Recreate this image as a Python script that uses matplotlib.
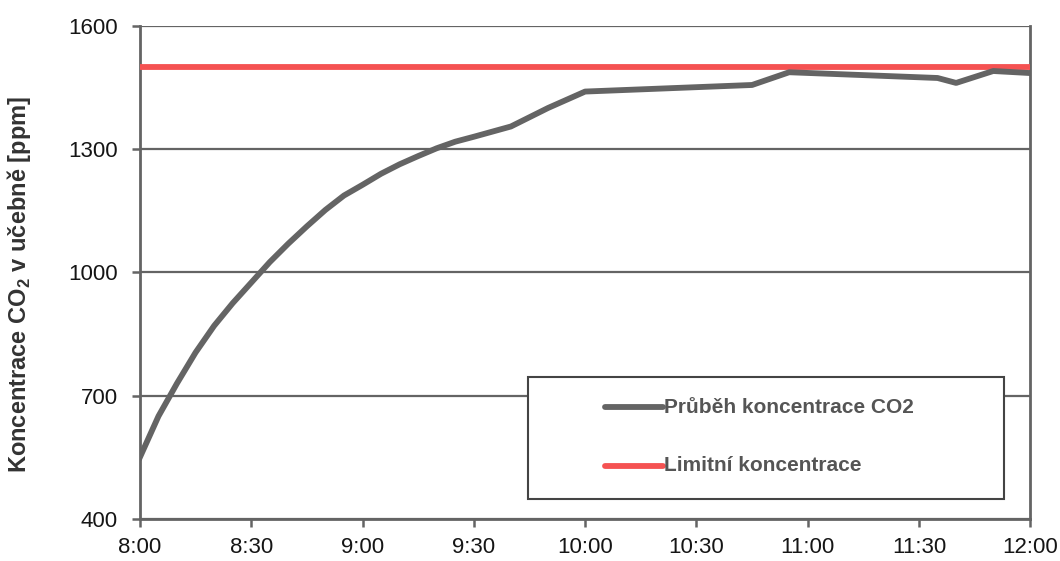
import matplotlib
matplotlib.use("Agg")
import matplotlib.pyplot as plt
from matplotlib.patches import Rectangle

plt.rcParams["font.family"] = ["Liberation Sans", "DejaVu Sans"]
plt.rcParams["mathtext.fontset"] = "custom"
plt.rcParams["mathtext.rm"] = "Liberation Sans"
plt.rcParams["mathtext.bf"] = "Liberation Sans:bold"

# Minutes after 8:00 and measured CO2 concentration (ppm)
minutes = [0, 5, 10, 15, 20, 25, 30, 35, 40, 45, 50, 55, 60, 65, 70, 75, 80, 85, 90,
           100, 110, 120, 165, 175, 215, 220, 230, 240]
co2_ppm = [550, 650, 730, 805, 870, 925, 975, 1025, 1070, 1112, 1152, 1187, 1213, 1240,
           1263, 1283, 1302, 1318, 1330, 1355, 1400, 1440, 1456, 1487, 1473, 1461, 1490, 1485]
limit_ppm = 1500

tick_minutes = [0, 30, 60, 90, 120, 150, 180, 210, 240]
tick_labels = ["8:00", "8:30", "9:00", "9:30", "10:00", "10:30", "11:00", "11:30", "12:00"]
y_ticks = [400, 700, 1000, 1300, 1600]

grey = "#646464"
red = "#f55252"

fig = plt.figure(figsize=(10.6, 5.61), dpi=100)
ax = fig.add_axes([0.132, 0.075, 0.840, 0.879])

ax.plot([tick_minutes[0], tick_minutes[-1]], [limit_ppm, limit_ppm], color=red, lw=4.2,
        solid_capstyle="butt", zorder=3)
ax.plot(minutes, co2_ppm, color=grey, lw=4.2, solid_joinstyle="round", zorder=4)

ax.set_xlim(0, 240)
ax.set_ylim(400, 1600)
ax.set_xticks(tick_minutes)
ax.set_xticklabels(tick_labels)
ax.set_yticks(y_ticks)
ax.grid(axis="y", color=grey, lw=1.6)
ax.set_axisbelow(True)

for side in ["left", "bottom", "right"]:
    ax.spines[side].set_color(grey)
    ax.spines[side].set_linewidth(2)
ax.spines["top"].set_visible(False)
ax.tick_params(axis="both", direction="out", length=6, width=1.8, color=grey,
               labelsize=16, labelcolor="#151515")
ax.tick_params(axis="x", pad=7)
ax.tick_params(axis="y", pad=10)

ax.set_ylabel(r"Koncentrace CO$_\mathbf{2}$ v učebně [ppm]", fontsize=17,
              fontweight="bold", color="#333333")
ax.yaxis.set_label_coords(-0.120, 0.475)

# legend box
ax.add_patch(Rectangle((0.436, 0.041), 0.534, 0.247, transform=ax.transAxes,
                       facecolor="white", edgecolor="#444444", lw=1.5, zorder=5))
legend_rows = [("Průběh koncentrace CO2", grey, 0.226), ("Limitní koncentrace", red, 0.108)]
for label, col, yy in legend_rows:
    ax.plot([0.522, 0.588], [yy, yy], transform=ax.transAxes, color=col, lw=4.2,
            solid_capstyle="round", zorder=6)
    ax.text(0.589, yy, label, transform=ax.transAxes, fontsize=15, fontweight="bold",
            color="#555555", va="center", ha="left", zorder=6)

fig.savefig("out.png", dpi=100, facecolor="white")
